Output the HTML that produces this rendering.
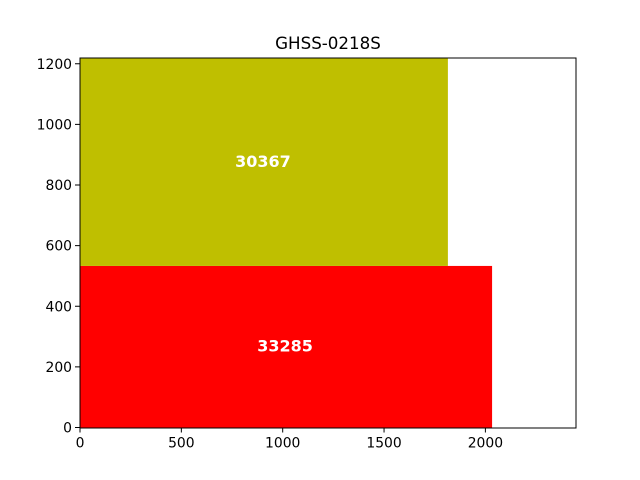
<!DOCTYPE html>
<html><head><meta charset="utf-8"><style>
body{margin:0;background:#fff;}
svg{display:block;font-family:"DejaVu Sans","Liberation Sans",sans-serif;}
</style></head><body>
<svg id="chart" width="640" height="480">
<text x="328" y="49" text-anchor="middle" font-size="16.7">GHSS-0218S</text>
<g id="bars"></g>
<rect x="80" y="58" width="496" height="370" fill="none" stroke="#000" stroke-width="1"/>
<g id="xticks"></g><g id="yticks"></g>
</svg>
<script>
const rectX0=[0,0];
const rectX1=[2033,1815];
const rectY0=[0,533];
const rectY1=[533,1219];
const rectLabels=["33285","30367"];
const rectColors=["#ff0000","#bfbf00"];
const xTicks=[0,500,1000,1500,2000];
const yTicks=[0,200,400,600,800,1000,1200];
const xMax=2447,yMax=1219;
const L=80,R=576,T=58,B=427.5;
const sx=v=>L+v/xMax*(R-L);
const sy=v=>B-v/yMax*(B-T);
const NS="http://www.w3.org/2000/svg";
const bars=document.getElementById('bars');
for(let i=0;i<rectX0.length;i++){
  const r=document.createElementNS(NS,'rect');
  r.setAttribute('x',sx(rectX0[i]));r.setAttribute('y',sy(rectY1[i]));
  r.setAttribute('width',sx(rectX1[i])-sx(rectX0[i]));r.setAttribute('height',sy(rectY0[i])-sy(rectY1[i]));
  r.setAttribute('fill',rectColors[i]);
  
  
  bars.appendChild(r);
  const t=document.createElementNS(NS,'text');
  t.setAttribute('x',(sx(rectX0[i])+sx(rectX1[i]))/2-1);
  t.setAttribute('y',(sy(rectY0[i])+sy(rectY1[i]))/2+5);
  t.setAttribute('text-anchor','middle');t.setAttribute('font-size','16');
  t.setAttribute('font-weight','bold');t.setAttribute('fill','#fff');
  t.textContent=rectLabels[i];
  
  
  bars.appendChild(t);
}
const xg=document.getElementById('xticks');
xTicks.forEach(v=>{
  const x=sx(v);
  const l=document.createElementNS(NS,'line');
  l.setAttribute('x1',x);l.setAttribute('x2',x);l.setAttribute('y1',B);l.setAttribute('y2',B+5);l.setAttribute('stroke','#000');
  
  
  xg.appendChild(l);
  const t=document.createElementNS(NS,'text');
  t.setAttribute('x',x);t.setAttribute('y',B+20);t.setAttribute('text-anchor','middle');t.setAttribute('font-size','13.9');
  t.textContent=v;
  
  
  xg.appendChild(t);
});
const yg=document.getElementById('yticks');
yTicks.forEach(v=>{
  const y=sy(v);
  const l=document.createElementNS(NS,'line');
  l.setAttribute('x1',L-5);l.setAttribute('x2',L);l.setAttribute('y1',y);l.setAttribute('y2',y);l.setAttribute('stroke','#000');
  
  
  yg.appendChild(l);
  const t=document.createElementNS(NS,'text');
  t.setAttribute('x',L-8);t.setAttribute('y',y+5);t.setAttribute('text-anchor','end');t.setAttribute('font-size','13.9');
  t.textContent=v;
  
  
  yg.appendChild(t);
});
</script>
</body></html>
